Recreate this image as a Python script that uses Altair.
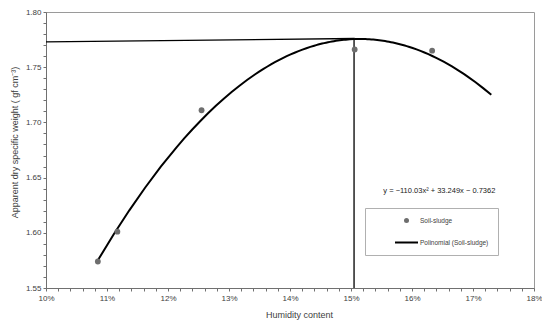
import altair as alt
import pandas as pd

# Measured points (humidity fraction, apparent dry specific weight)
hum = [0.1085, 0.1117, 0.1255, 0.1506, 0.1633]
dens = [1.574, 1.601, 1.711, 1.766, 1.765]
series_names = ["Soil-sludge", "Polinomial (Soil-sludge)"]

# Optimum guide lines
guide_x = [0.10, 0.1505, 0.1505]
guide_y = [1.773, 1.776, 1.55]

# Equation annotation
eq_text = ["y = −110.03x² + 33.249x − 0.7362"]
eq_x = [0.1553]
eq_y = [1.638]

trend_extent = [0.1085, 0.173]

x_ticks = [round(0.10 + i * 0.002, 3) for i in range(41)]
y_ticks = [round(1.55 + i * 0.01, 2) for i in range(26)]

pts = pd.DataFrame({"x": hum, "y": dens, "series": series_names[0]})
guide = pd.DataFrame({"x": guide_x, "y": guide_y, "o": list(range(len(guide_x)))})
eq = pd.DataFrame({"x": eq_x, "y": eq_y, "t": eq_text})

FONT = "Liberation Sans"
TXT = "#404040"

xscale = alt.Scale(domain=[0.10, 0.18], nice=False, zero=False)
yscale = alt.Scale(domain=[1.55, 1.80], nice=False, zero=False)

xaxis = alt.Axis(
    title="Humidity content",
    values=x_ticks,
    labelExpr="abs(datum.value*100 - round(datum.value*100)) < 0.001 ? format(datum.value, '.0%') : ''",
    labelOverlap=False,
    labelFlush=False,
    grid=False,
    tickSize=3,
    labelPadding=3,
    titleX=253,
    titleY=22,
)
yaxis = alt.Axis(
    title="Apparent dry specific weight ( gf cm⁻³)",
    values=y_ticks,
    labelExpr="abs(datum.value*20 - round(datum.value*20)) < 0.001 ? format(datum.value, '.2f') : ''",
    labelOverlap=False,
    labelFlush=False,
    grid=False,
    tickSize=3,
    labelPadding=2,
    titleX=-27,
    titleY=130,
)

X = alt.X("x:Q", scale=xscale, axis=xaxis)
Y = alt.Y("y:Q", scale=yscale, axis=yaxis)

base = alt.Chart(pts)

points = base.mark_point(filled=True, opacity=1, size=34).encode(
    x=X,
    y=Y,
    color=alt.Color(
        "series:N",
        scale=alt.Scale(domain=series_names, range=["#6e6e6e", "#000000"]),
        legend=alt.Legend(
            title=None,
            orient="none",
            legendX=319,
            legendY=196,
            strokeColor="#b0b0b0",
            padding=9,
            symbolOffset=29,
            labelOffset=10,
            rowPadding=15,
            symbolSize=25,
            labelFontSize=6.5,
            labelColor=TXT,
            labelFont=FONT,
            labelExpr="datum.label + '\u00a0\u00a0\u00a0\u00a0\u00a0\u00a0\u00a0\u00a0\u00a0\u00a0\u00a0'",
        ),
    ),
    shape=alt.Shape(
        "series:N",
        scale=alt.Scale(domain=series_names, range=["circle", "M-4.6,-0.4H4.6V0.4H-4.6Z"]),
        legend=alt.Legend(title=None, orient="none", legendX=319, legendY=196),
    ),
)

trend = base.transform_regression(
    "x", "y", method="poly", order=2, extent=trend_extent
).mark_line(color="black", strokeWidth=2).encode(x=X, y=Y)

guides = alt.Chart(guide).mark_line(color="black", strokeWidth=1.3).encode(
    x=X, y=Y, order="o:Q"
)

eqtext = alt.Chart(eq).mark_text(
    align="left", baseline="middle", fontSize=7.5, font=FONT, color="#202020"
).encode(x=X, y=Y, text="t:N")

chart = alt.layer(guides, trend, points, eqtext).properties(
    width=488,
    height=276,
    autosize=alt.AutoSizeParams(type="none"),
    padding={"left": 38, "top": 4, "right": 8, "bottom": 34},
).configure_view(
    stroke="#9a9a9a", strokeWidth=1
).configure_axis(
    labelFont=FONT,
    titleFont=FONT,
    labelFontSize=8,
    titleFontSize=9,
    labelColor=TXT,
    titleColor=TXT,
    titleFontWeight="normal",
    domainColor="#707070",
    tickColor="#707070",
)

chart.save("out.html", embed_options={"renderer": "svg", "actions": False})
